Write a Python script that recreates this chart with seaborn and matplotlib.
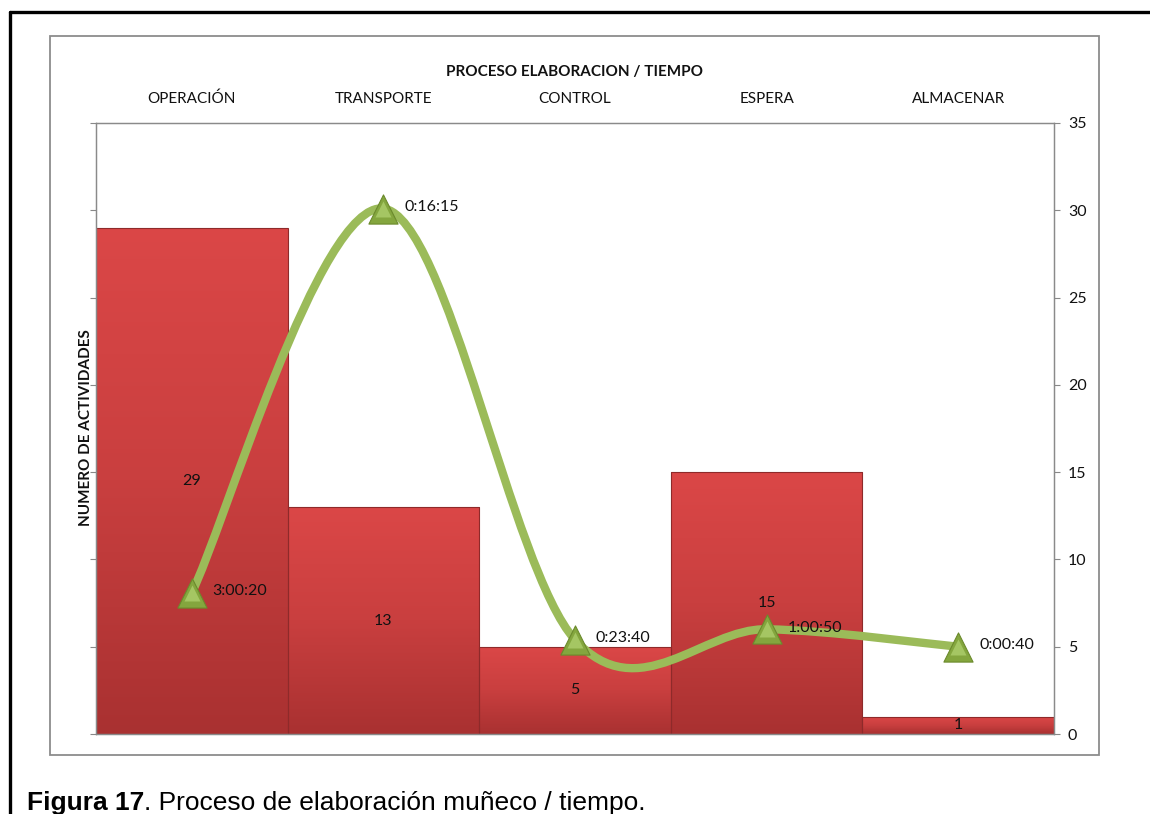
import numpy as np
import pandas as pd
import matplotlib
matplotlib.use("Agg")
import matplotlib.pyplot as plt
import seaborn as sns
from matplotlib.path import Path
from matplotlib.patches import PathPatch, Rectangle
from matplotlib.lines import Line2D
from matplotlib.colors import LinearSegmentedColormap

# ---------------- data ----------------
categories = ["OPERACIÓN", "TRANSPORTE", "CONTROL", "ESPERA", "ALMACENAR"]
activities = [29, 13, 5, 15, 1]
time_values = [8.1, 30.1, 5.4, 6.0, 5.0]          # plotted height of the time line
time_labels = ["3:00:20", "0:16:15", "0:23:40", "1:00:50", "0:00:40"]
y_ticks = [0, 5, 10, 15, 20, 25, 30, 35]

sns.set_theme(style="white")
plt.rcParams["font.family"] = ["Lato", "DejaVu Sans"]
plt.rcParams["text.color"] = "#111111"

W, H = 1150, 814
fig = plt.figure(figsize=(W / 100, H / 100), dpi=100)
fig.patch.set_facecolor("white")

# axes in pixel placement
L, R, T, B = 96, 1054, 123, 734
ax = fig.add_axes([L / W, 1 - B / H, (R - L) / W, (B - T) / H])

df = pd.DataFrame({"cat": categories, "n": activities})
sns.barplot(data=df, x="cat", y="n", order=categories, width=1.0, color="#C83C3C",
            edgecolor="#8E2A2A", linewidth=0.8, ax=ax, zorder=2)

ax.set_xlim(-0.5, len(categories) - 0.5)
ax.set_ylim(0, 35)

# gradient on bars (lighter top, darker bottom)
grad = np.linspace(0, 1, 256).reshape(-1, 1)
cmap = LinearSegmentedColormap.from_list("redgrad", ["#A93131", "#C93F3F", "#DB4747"])
for p in list(ax.patches):
    x0, y0 = p.get_x(), p.get_y()
    w, h = p.get_width(), p.get_height()
    im = ax.imshow(grad, extent=(x0, x0 + w, y0 + h, y0), cmap=cmap, aspect="auto",
                   zorder=2.1, origin="upper")
    im.set_clip_path(p)
    p.set_facecolor("none")
    p.set_zorder(2.3)
ax.set_xlim(-0.5, len(categories) - 0.5)
ax.set_ylim(0, 35)

# bar value labels
for i, v in enumerate(activities):
    ax.text(i, v / 2, str(v), ha="center", va="center", fontsize=11.5, color="#111111", zorder=5)

# axes styling
ax.xaxis.tick_top()
ax.set_xlabel("")
ax.set_ylabel("")
ax.tick_params(axis="x", length=0, pad=12, labelsize=11, colors="#111111")
ax.set_yticks(y_ticks)
ax.set_yticklabels([])
ax.tick_params(axis="y", left=True, length=4, width=0.8, color="#888888")
for s in ax.spines.values():
    s.set_color("#8A8A8A")
    s.set_linewidth(0.9)

# secondary axis with line
ax2 = ax.twinx()
ax2.set_ylim(0, 35)
ax2.set_yticks(y_ticks)
ax2.set_yticklabels([str(t) for t in y_ticks])
ax2.tick_params(axis="y", right=True, length=4, width=0.8, color="#888888", pad=6,
                labelsize=11.5, labelcolor="#111111")
for s in ax2.spines.values():
    s.set_color("#8A8A8A")
    s.set_linewidth(0.9)
ax2.grid(False)
ax.grid(False)

# smoothed line (Catmull-Rom Bezier through the data points)
xs = np.arange(len(categories), dtype=float)
ys = np.array(time_values, dtype=float)
pts = np.column_stack([xs, ys])
ext = np.vstack([pts[0], pts, pts[-1]])
verts = [tuple(pts[0])]
codes = [Path.MOVETO]
for k in range(len(pts) - 1):
    p0, p1, p2, p3 = ext[k], ext[k + 1], ext[k + 2], ext[k + 3]
    c1 = p1 + (p2 - p0) / 6.0
    c2 = p2 - (p3 - p1) / 6.0
    verts += [tuple(c1), tuple(c2), tuple(p2)]
    codes += [Path.CURVE4] * 3
ax2.add_patch(PathPatch(Path(verts, codes), facecolor="none", edgecolor="#9BBB59",
                        lw=6, capstyle="round", joinstyle="round", zorder=3))

# markers: triangle with lighter core
sns.scatterplot(x=xs, y=ys, ax=ax2, marker="^", s=21 ** 2, color="#84A63E",
                edgecolor="#6B8A2C", linewidth=0.8, zorder=4, legend=False)
for x, y in zip(xs, ys):
    ax2.plot([x], [y], marker="^", ms=12, color="#A5C663", mec="none", zorder=4.5)

for x, y, lab in zip(xs, ys, time_labels):
    ax2.annotate(lab, (x, y), xytext=(15, 1), textcoords="offset points",
                 ha="left", va="center", fontsize=11.5, color="#111111", zorder=6)

ax2.set_xlim(-0.5, len(categories) - 0.5)

# titles
fig.text(575 / W, 1 - 72 / H, "PROCESO ELABORACION / TIEMPO", ha="center", va="center",
         fontsize=11, fontweight="bold", color="#111111")
fig.text(86 / W, 1 - 428 / H, "NUMERO DE ACTIVIDADES", ha="center", va="center",
         rotation=90, fontsize=11, fontweight="bold", color="#111111")

# chart border (gray) and page frame (black)
fig.add_artist(Rectangle((50 / W, 1 - 755 / H), (1099 - 50) / W, (755 - 36) / H,
                         transform=fig.transFigure, fill=False, edgecolor="#8C8C8C", lw=1.3))
fig.add_artist(Line2D([9.5 / W, 1], [1 - 11.5 / H, 1 - 11.5 / H], transform=fig.transFigure,
                      color="black", lw=2.4))
fig.add_artist(Line2D([9.5 / W, 9.5 / W], [0, 1 - 11.5 / H], transform=fig.transFigure,
                      color="black", lw=2.4))

# caption
t1 = fig.text(27 / W, 1 - 810 / H, "Figura 17", ha="left", va="baseline", color="black",
              fontsize=19, fontweight="bold", family=["Liberation Sans", "DejaVu Sans"])
fig.canvas.draw()
bb = t1.get_window_extent()
fig.text(bb.x1 / W, 1 - 810 / H, ". Proceso de elaboración muñeco / tiempo.", ha="left",
         va="baseline", fontsize=19, color="black", family=["Liberation Sans", "DejaVu Sans"])

fig.savefig("out.png", dpi=100)
